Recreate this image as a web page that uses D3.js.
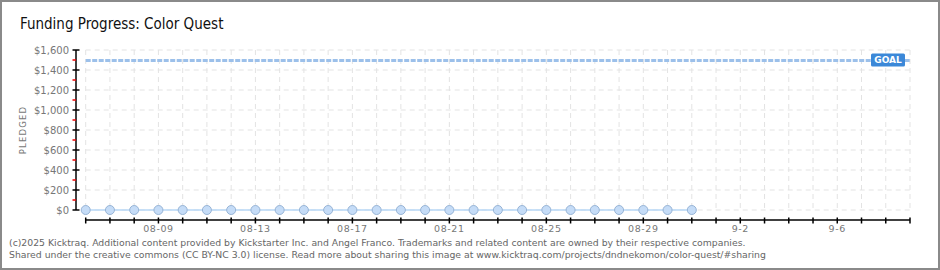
<!DOCTYPE html>
<html><head><meta charset="utf-8">
<script src="https://cdn.jsdelivr.net/npm/d3@7"></script>
<style>body{margin:0;background:#fff}svg{display:block}</style>
</head><body>
<script>
const dates = ["2025-08-06","2025-08-07","2025-08-08","2025-08-09","2025-08-10","2025-08-11","2025-08-12","2025-08-13","2025-08-14","2025-08-15","2025-08-16","2025-08-17","2025-08-18","2025-08-19","2025-08-20","2025-08-21","2025-08-22","2025-08-23","2025-08-24","2025-08-25","2025-08-26","2025-08-27","2025-08-28","2025-08-29","2025-08-30","2025-08-31"];
const pledged = [0,0,0,0,0,0,0,0,0,0,0,0,0,0,0,0,0,0,0,0,0,0,0,0,0,0];
const goal = 1500;
const xDomain = ["2025-08-06","2025-09-09"];
const xLabelDates = ["2025-08-09","2025-08-13","2025-08-17","2025-08-21","2025-08-25","2025-08-29","2025-09-02","2025-09-06"];
const xLabels = ["08-09","08-13","08-17","08-21","08-25","08-29","9-2","9-6"];
const yTicks = [0,200,400,600,800,1000,1200,1400,1600];
const yMinorTicks = [100,300,500,700,900,1100,1300,1500];
const title = "Funding Progress: Color Quest";
const yTitle = "PLEDGED";
const footer = ["(c)2025 Kicktraq. Additional content provided by Kickstarter Inc. and Angel Franco. Trademarks and related content are owned by their respective companies.",
"Shared under the creative commons (CC BY-NC 3.0) license. Read more about sharing this image at www.kicktraq.com/projects/dndnekomon/color-quest/#sharing"];

const W = 940, H = 270;
const parse = d3.utcParse("%Y-%m-%d");
const svg = d3.select("body").append("svg").attr("width", W).attr("height", H);
svg.append("rect").attr("x",1).attr("y",1).attr("width",W-2).attr("height",H-2).attr("fill","#fff").attr("stroke","#8a8a8a").attr("stroke-width",2);

const x = d3.scaleUtc().domain(xDomain.map(parse)).range([85.7, 910]);
const y = d3.scaleLinear().domain([0,1600]).range([210, 50]);
const axisX = 76;
const font = "DejaVu Sans";

// grid
const days = d3.utcDay.range(x.domain()[0], d3.utcDay.offset(x.domain()[1],1));
svg.append("g").selectAll("line").data(days).join("line")
  .attr("x1", d=>x(d)).attr("x2", d=>x(d)).attr("y1", 50).attr("y2", 210)
  .attr("stroke","#e3e3e3").attr("stroke-dasharray","5,4");
svg.append("g").selectAll("line").data(yTicks).join("line")
  .attr("x1", 85.7).attr("x2", 910).attr("y1", d=>y(d)).attr("y2", d=>y(d))
  .attr("stroke","#e3e3e3").attr("stroke-dasharray","5,4");

// y axis
const gy = svg.append("g").attr("transform",`translate(${axisX},0)`);
gy.append("line").attr("y1",y(1600)).attr("y2",y(0)).attr("stroke","#000").attr("stroke-width",1.5);
gy.selectAll(".maj").data(yTicks).join("line").attr("x1",-3.5).attr("x2",3.5)
  .attr("y1",d=>y(d)).attr("y2",d=>y(d)).attr("stroke","#000").attr("stroke-width",1.5);
gy.selectAll(".min").data(yMinorTicks).join("line").attr("x1",-3.5).attr("x2",0)
  .attr("y1",d=>y(d)).attr("y2",d=>y(d)).attr("stroke","#e00").attr("stroke-width",1.5);
gy.selectAll("text").data(yTicks).join("text").attr("x",-7).attr("y",d=>y(d)).attr("dy","0.35em")
  .attr("text-anchor","end").attr("font-family",font).attr("font-size",10).attr("fill","#777")
  .text(d=>d3.format("$,")(d));
svg.append("text").attr("transform","translate(26,130) rotate(-90)").attr("text-anchor","middle")
  .attr("font-family",font).attr("font-size",8.5).attr("letter-spacing",1.2).attr("fill","#777").text(yTitle);

// x axis
const gx = svg.append("g").attr("transform","translate(0,220)");
gx.append("line").attr("x1",x.range()[0]).attr("x2",x.range()[1]).attr("stroke","#000").attr("stroke-width",1.5);
gx.selectAll("line.t").data(days).join("line").attr("class","t").attr("x1",d=>x(d)).attr("x2",d=>x(d))
  .attr("y1",-2.5).attr("y2",3.5).attr("stroke","#000").attr("stroke-width",1.5);
gx.selectAll("text").data(xLabelDates).join("text").attr("x",d=>x(parse(d))).attr("y",12)
  .attr("text-anchor","middle").attr("font-family",font).attr("font-size",9.5).attr("fill","#777")
  .attr("letter-spacing",0.6).text((d,i)=>xLabels[i]);

// goal line
svg.append("line").attr("x1",85.7).attr("x2",910).attr("y1",y(goal)+0.5).attr("y2",y(goal)+0.5)
  .attr("stroke","#9cc0ea").attr("stroke-width",3).attr("stroke-dasharray","5,1.5");
const gb = svg.append("g");
gb.append("rect").attr("x",871).attr("y",y(goal)-6.5).attr("width",34).attr("height",13).attr("rx",1.5).attr("fill","#3b88d8");
gb.append("text").attr("x",888).attr("y",y(goal)).attr("dy","0.36em").attr("text-anchor","middle")
  .attr("font-family",font).attr("font-size",9).attr("font-weight","bold").attr("fill","#fff").text("GOAL");

// data
const pts = dates.map((d,i)=>({d:parse(d), v:pledged[i]}));
svg.append("path").datum(pts).attr("fill","none").attr("stroke","#b7d7f6").attr("stroke-width",1.5)
  .attr("d", d3.line().x(p=>x(p.d)).y(p=>y(p.v)));
svg.append("g").selectAll("circle").data(pts).join("circle").attr("cx",p=>x(p.d)).attr("cy",p=>y(p.v)).attr("r",4.5)
  .attr("fill","#c5dcf7").attr("stroke","#97b4d6").attr("stroke-width",1);

// title
svg.append("text").attr("x",20).attr("y",29).attr("font-family","DejaVu Sans Condensed, DejaVu Sans").attr("font-stretch","condensed")
  .attr("font-size",15).attr("fill","#111").text(title);

// footer
svg.selectAll("text.f").data(footer).join("text").attr("class","f").attr("x",9).attr("y",(d,i)=>246+i*12)
  .attr("font-family","DejaVu Sans").attr("font-size",9.3).attr("fill","#666").text(d=>d);
</script>
</body></html>
